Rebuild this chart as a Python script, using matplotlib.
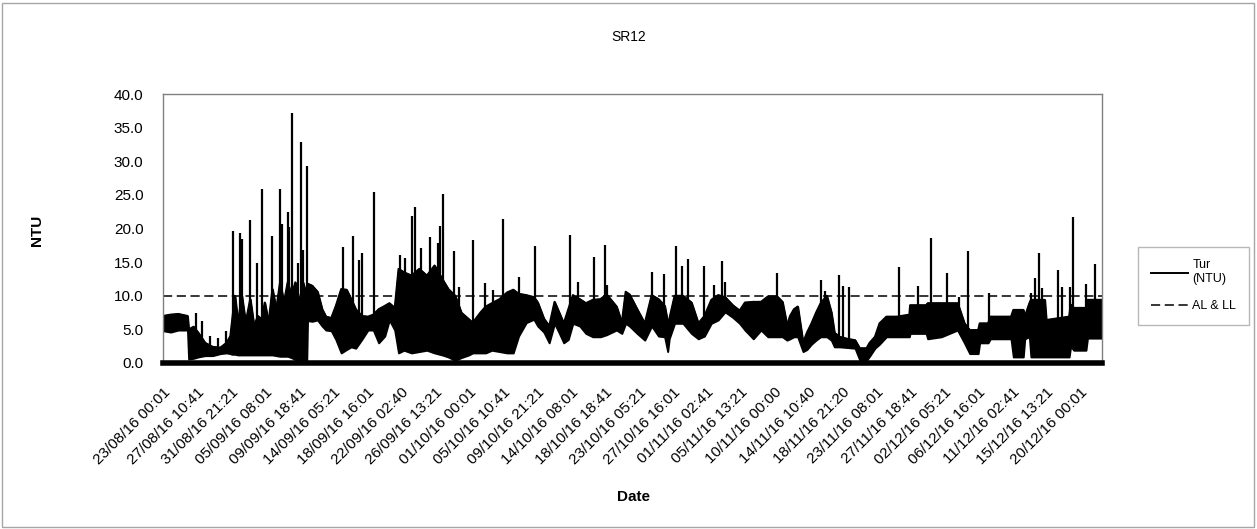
#!/usr/bin/env python3
"""SR12 turbidity record (Aug-Dec 2016) vs the 10 NTU alert/lower limit."""
import numpy as np
import matplotlib
matplotlib.use("Agg")
import matplotlib.pyplot as plt
import matplotlib.transforms as mtransforms
from matplotlib.patches import Rectangle

plt.rcParams["font.family"] = ["Liberation Sans", "DejaVu Sans"]

# category labels shown every 320 samples (20-min logging -> 4 d 10 h 40 min)
TICK_LABELS = [
    "23/08/16 00:01", "27/08/16 10:41", "31/08/16 21:21", "05/09/16 08:01",
    "09/09/16 18:41", "14/09/16 05:21", "18/09/16 16:01", "22/09/16 02:40",
    "26/09/16 13:21", "01/10/16 00:01", "05/10/16 10:41", "09/10/16 21:21",
    "14/10/16 08:01", "18/10/16 18:41", "23/10/16 05:21", "27/10/16 16:01",
    "01/11/16 02:41", "05/11/16 13:21", "10/11/16 00:00", "14/11/16 10:40",
    "18/11/16 21:20", "23/11/16 08:01", "27/11/16 18:41", "02/12/16 05:21",
    "06/12/16 16:01", "11/12/16 02:41", "15/12/16 13:21", "20/12/16 00:01",
]
TICK_STEP = 6400 / 1440  # days between labels

# envelope of the dense daily cycle, days since 23/08/16 00:01 (NTU)
BAND_DAY = [
    0.0, 1.0, 2.0, 3.2, 3.35, 4.0, 4.6, 5.5, 6.5, 7.5, 8.3, 8.8,
    9.0, 9.4, 9.8, 10.3, 10.8, 11.4, 11.9, 12.4, 12.9, 13.3, 13.8, 14.3,
    14.8, 15.3, 15.8, 16.3, 16.8, 17.3, 17.8, 18.3, 18.8,
    18.9, 19.5, 20.2, 20.8, 21.3, 22.0, 22.6, 23.3, 24.0, 24.6, 25.2, 26.0,
    26.8, 27.5, 28.2, 29.0, 29.6, 30.3, 30.8, 31.5, 32.5, 33.5, 34.5, 35.5,
    36.5, 37.3, 38.2, 39.0, 40.0,
    40.5, 41.5, 42.2, 43.0, 44.0, 45.0, 45.8, 46.5, 47.5, 48.5, 49.0, 49.8,
    50.5, 51.2, 51.8, 52.4, 53.0, 53.6, 54.5, 55.3, 56.2, 57.2, 58.0, 59.3,
    60.0, 60.5,
    61.0, 62.0, 63.0, 63.9, 64.8, 65.6, 66.0, 66.2, 66.9, 68.0, 69.1, 70.0,
    70.8, 71.7, 72.6, 73.5, 74.5, 75.4, 76.1, 77.2, 78.2, 79.1, 80.3, 81.0,
    81.6, 82.0, 82.5, 83.0, 83.7, 84.2, 84.8, 85.4, 86.0, 86.8, 87.4, 87.8,
    88.5, 89.5, 90.5, 91.1, 92.0, 92.4, 93.1, 93.7, 94.6, 96.0, 97.6, 97.7,
    99.8, 100.0,
    101.8, 103.9, 104.8, 105.5, 106.6, 106.8, 107.9, 108.2, 110.9, 111.2,
    112.5, 112.7, 113.3, 113.5, 115.3, 115.5, 118.5, 118.7, 119.1, 120.7,
    120.9, 122.8,
]
BAND_LO = [
    4.8, 4.6, 4.9, 4.9, 0.6, 0.7, 0.9, 1.1, 1.1, 1.4, 1.5, 1.4,
    1.3, 1.3, 1.2, 1.2, 1.2, 1.2, 1.2, 1.2, 1.2, 1.2, 1.2, 1.2,
    1.1, 1.0, 1.0, 1.0, 0.8, 0.5, 0.4, 0.4, 0.4,
    6.3, 6.2, 6.4, 5.5, 4.9, 4.8, 3.5, 1.5, 2.0, 2.4, 2.2, 3.5,
    4.9, 4.9, 3.0, 4.0, 6.4, 4.9, 1.5, 1.9, 1.5, 1.7, 1.9, 1.5,
    1.2, 0.9, 0.4, 0.8, 1.2,
    1.5, 1.5, 1.5, 1.9, 1.7, 1.5, 1.5, 4.0, 6.0, 6.5, 5.5, 4.6,
    3.0, 5.9, 4.5, 3.0, 3.5, 5.9, 5.5, 4.4, 3.9, 3.9, 4.2, 4.9,
    4.4, 5.9,
    5.5, 4.4, 3.4, 5.5, 4.0, 3.9, 1.7, 3.6, 5.9, 5.9, 4.4, 3.6,
    4.0, 5.9, 6.4, 7.6, 6.8, 5.9, 4.9, 3.6, 4.9, 3.9, 3.9, 3.9,
    3.4, 3.6, 3.9, 3.9, 1.7, 2.0, 2.8, 3.4, 3.9, 3.9, 3.4, 2.4,
    2.4, 2.3, 2.2, 0.5, 0.4, 1.0, 2.2, 2.8, 3.9, 3.9, 3.9, 4.4,
    4.4, 3.6,
    3.9, 4.9, 3.0, 1.4, 1.4, 3.0, 3.0, 3.6, 3.6, 0.9,
    0.9, 3.6, 3.9, 0.9, 0.9, 0.9, 0.9, 2.5, 1.9, 1.9,
    3.7, 3.7,
]
BAND_HI = [
    7.0, 7.2, 7.3, 7.0, 5.0, 5.4, 4.5, 3.0, 2.4, 2.3, 3.0, 4.0,
    6.0, 10.0, 6.0, 10.0, 6.0, 9.5, 5.5, 7.0, 6.5, 9.0, 6.0, 11.0,
    8.0, 12.0, 9.0, 12.0, 10.0, 12.0, 9.0, 12.0, 10.0,
    11.8, 11.5, 10.6, 8.0, 6.9, 6.7, 8.5, 11.0, 10.9, 9.5, 8.0, 7.0,
    6.9, 7.2, 8.0, 8.5, 8.9, 8.2, 14.0, 13.5, 13.0, 14.0, 13.0, 14.5,
    12.5, 11.0, 10.0, 7.5, 6.5,
    6.0, 7.5, 8.4, 8.9, 9.5, 10.5, 10.9, 10.3, 10.1, 9.8, 9.0, 6.6,
    5.5, 9.1, 7.5, 5.9, 8.0, 10.1, 9.5, 8.9, 9.4, 9.5, 10.2, 8.4,
    6.0, 10.6,
    10.2, 8.0, 5.9, 10.1, 9.5, 8.5, 6.0, 6.5, 10.0, 10.0, 9.0, 5.9,
    7.0, 9.4, 10.1, 9.8, 8.6, 7.8, 9.0, 9.1, 9.1, 9.9, 9.9, 9.1,
    5.6, 7.0, 8.0, 8.4, 3.0, 4.5, 5.9, 7.5, 8.9, 10.0, 7.5, 4.5,
    3.9, 3.6, 3.4, 2.2, 2.2, 3.0, 3.9, 5.9, 6.9, 6.9, 7.2, 8.6,
    8.6, 8.9,
    8.9, 8.9, 5.9, 4.9, 4.9, 5.9, 5.9, 6.9, 6.9, 7.9,
    7.9, 6.9, 8.9, 9.4, 9.4, 6.4, 6.9, 8.7, 8.2, 8.2,
    9.4, 9.4,
]

# isolated short-lived peaks above the band
SPIKE_DAY = [
    4.3, 5.1, 6.1, 7.2, 8.2,
    9.1, 10.07, 10.28, 10.85, 11.37, 12.33, 12.98, 14.2, 15.3, 15.5,
    16.3, 16.5, 16.9, 17.7, 18.0, 18.35, 18.8, 19.4,
    23.6, 24.9, 25.6, 26.0, 27.6, 31.0, 31.6, 32.5, 33.0, 33.7, 34.9,
    35.9, 36.2, 36.6, 38.0, 38.7, 40.6,
    42.1, 43.2, 44.4, 45.4, 45.7, 46.5, 48.6, 53.2, 54.3, 56.3, 57.8, 58.1,
    64.0, 65.5, 67.1, 67.9, 68.6, 70.7, 72.1, 73.1, 73.5, 80.3,
    86.0, 86.6, 88.4, 88.9, 89.7, 96.3, 98.7, 100.4,
    102.5, 104.1, 105.3, 108.0, 113.5, 114.0, 114.5, 114.9, 117.0, 117.6,
    118.6, 119.0, 120.7, 121.9,
]
SPIKE_TOP = [
    7.4, 6.3, 4.0, 3.7, 4.7,
    19.7, 19.3, 18.5, 7.0, 21.3, 14.9, 25.9, 18.9, 25.9, 20.7,
    22.4, 20.2, 37.2, 14.9, 32.8, 16.8, 29.3, 11.3,
    17.3, 18.9, 15.3, 16.4, 25.5, 16.1, 15.6, 21.9, 23.2, 17.1, 18.8,
    17.8, 20.3, 25.1, 16.6, 11.3, 18.3,
    11.9, 10.9, 21.4, 10.7, 10.9, 12.8, 17.4, 19.0, 12.1, 15.8, 17.5, 11.6,
    13.6, 13.3, 17.4, 14.4, 15.4, 14.4, 11.6, 15.2, 12.1, 13.4,
    12.3, 10.7, 13.1, 11.4, 11.3, 14.3, 11.4, 18.6,
    13.4, 9.8, 16.6, 10.4, 10.4, 12.6, 16.3, 11.2, 13.8, 11.3,
    11.3, 21.7, 11.7, 14.7,
]
LIMIT = 10.0  # AL & LL

W, H = 1257, 529


def main():
    fig = plt.figure(figsize=(W / 100, H / 100), dpi=100)
    fig.patches.append(Rectangle((2 / W, 2 / H), 1 - 5 / W, 1 - 5 / H,
                                 transform=fig.transFigure, fill=False,
                                 edgecolor="#a6a6a6", linewidth=1))
    ax = fig.add_axes([163 / W, 1 - 363 / H, 939 / W, 269 / H])

    # spikes first, then blank out below the band, then the band on top
    ax.vlines(SPIKE_DAY, 0, SPIKE_TOP, color="black", linewidth=1.6, zorder=1)
    ax.fill_between(BAND_DAY, 0, BAND_LO, color="white", linewidth=0, zorder=1.1)
    ax.fill_between(BAND_DAY, BAND_LO, BAND_HI, facecolor="black",
                    edgecolor="black", linewidth=1.4, zorder=1.2)
    ax.plot(BAND_DAY, BAND_HI, color="black", linewidth=1.4, zorder=1.3,
            label="Tur\n(NTU)")
    ax.axhline(LIMIT, color="black", linewidth=1.1, linestyle=(0, (6, 3)),
               zorder=1.4, label="AL & LL")

    ax.set_xlim(0, 122.8)
    ax.set_ylim(0, 40)
    yt = np.arange(0, 41, 5)
    ax.set_yticks(yt)
    ax.set_yticklabels([f"{v:.1f}" for v in yt])
    ax.set_xticks(np.arange(len(TICK_LABELS)) * TICK_STEP)
    ax.set_xticklabels(TICK_LABELS, rotation=45, ha="right", va="top",
                       rotation_mode="anchor")
    shift = mtransforms.ScaledTranslation(-3 / 100, 0, fig.dpi_scale_trans)
    for lab in ax.get_xticklabels():
        lab.set_transform(lab.get_transform() + shift)
    ax.tick_params(axis="y", length=0, pad=14, labelsize=11)
    ax.tick_params(axis="x", length=0, pad=16, labelsize=11)

    for side in ("top", "left", "right"):
        ax.spines[side].set_color("#808080")
        ax.spines[side].set_linewidth(1)
    ax.spines["bottom"].set_color("black")
    ax.spines["bottom"].set_linewidth(4)

    fig.text(629 / W, 1 - 37 / H, "SR12", ha="center", va="center", fontsize=10)
    fig.text(37 / W, 1 - 230 / H, "NTU", ha="center", va="center",
             rotation=90, fontsize=11, fontweight="bold")
    fig.text(633 / W, 1 - 497 / H, "Date", ha="center", va="center",
             fontsize=11, fontweight="bold")

    leg = ax.legend(loc="upper left", bbox_to_anchor=(1138 / W, 1 - 247 / H),
                    bbox_transform=fig.transFigure, fontsize=9, frameon=True,
                    fancybox=False, handlelength=3.0, handletextpad=0.35,
                    borderpad=1.0, labelspacing=1.2, borderaxespad=0)
    leg.get_frame().set_edgecolor("#a6a6a6")
    leg.get_frame().set_linewidth(1)

    fig.savefig("out.png", dpi=100)


if __name__ == "__main__":
    main()
